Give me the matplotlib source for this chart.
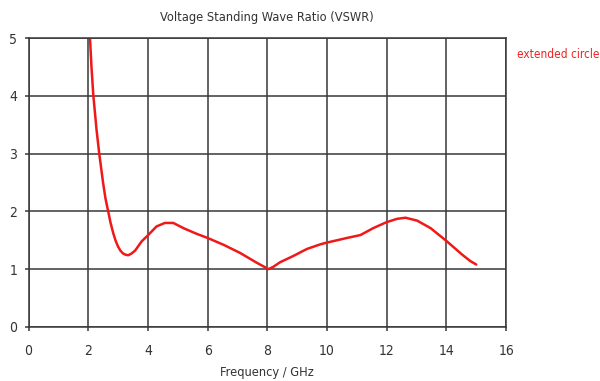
import matplotlib.pyplot as plt

# VSWR curve, frequency in GHz
freq = [2.06, 2.11, 2.17, 2.28, 2.37, 2.50, 2.58, 2.67, 2.75, 2.84, 2.92, 3.00,
        3.08, 3.17, 3.25, 3.34, 3.45, 3.57, 3.79, 4.01, 4.29, 4.57, 4.85, 5.19,
        5.64, 6.00, 6.54, 7.09, 7.65, 7.90, 8.04, 8.20, 8.43, 8.88, 9.33, 9.78,
        10.00, 10.67, 11.12, 11.55, 11.98, 12.34, 12.63, 13.02, 13.47, 14.02,
        14.53, 14.80, 15.00]
vswr = [5.00, 4.50, 4.02, 3.41, 3.00, 2.49, 2.22, 2.00, 1.80, 1.62, 1.49, 1.39,
        1.32, 1.27, 1.25, 1.24, 1.27, 1.32, 1.48, 1.59, 1.74, 1.80, 1.80, 1.71,
        1.61, 1.54, 1.42, 1.28, 1.11, 1.04, 1.00, 1.04, 1.12, 1.23, 1.35, 1.43,
        1.46, 1.54, 1.59, 1.71, 1.81, 1.87, 1.89, 1.84, 1.71, 1.48,
        1.25, 1.14, 1.08]

xticks = [0, 2, 4, 6, 8, 10, 12, 14, 16]
yticks = [0, 1, 2, 3, 4, 5]

plt.rcParams["font.family"] = "DejaVu Sans"
plt.rcParams["font.stretch"] = "condensed"

fig = plt.figure(figsize=(6.0, 3.81), dpi=100)
ax = fig.add_axes([0.0475, 0.142, 0.796, 0.758])

ax.plot(freq, vswr, color="#f01818", linewidth=1.8, solid_capstyle="round",
        solid_joinstyle="round")

ax.set_xlim(0, 16)
ax.set_ylim(0, 5)
ax.set_xticks(xticks)
ax.set_yticks(yticks)
ax.grid(True, color="#383838", linewidth=1.1)
ax.set_axisbelow(True)
for s in ax.spines.values():
    s.set_color("#383838")
    s.set_linewidth(1.1)
ax.tick_params(length=3, width=1.1, color="#383838", labelsize=10,
               labelcolor="#333333")
ax.tick_params(axis="x", pad=9)
ax.tick_params(axis="y", pad=5)

ax.set_title("Voltage Standing Wave Ratio (VSWR)", fontsize=9.2,
             color="#333333", pad=12)
ax.set_xlabel("Frequency / GHz", fontsize=9.2, color="#333333", labelpad=6)
fig.text(0.862, 0.858, "extended circle", color="#f02020", fontsize=8.5,
         ha="left", va="center")

fig.savefig("out.png", dpi=100, facecolor="white")
